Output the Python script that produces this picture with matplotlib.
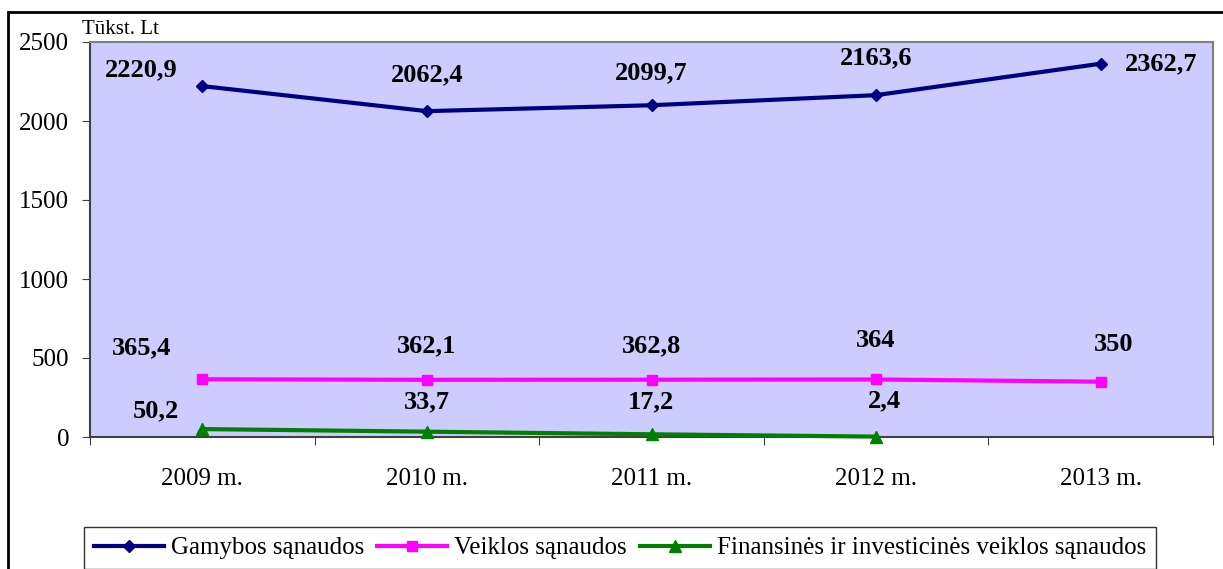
import matplotlib.pyplot as plt
from matplotlib.patches import Rectangle

plt.rcParams['font.family'] = ['Liberation Serif', 'DejaVu Serif']

# Duomenys
years = ['2009 m.', '2010 m.', '2011 m.', '2012 m.', '2013 m.']
gamybos = [2220.9, 2062.4, 2099.7, 2163.6, 2362.7]
veiklos = [365.4, 362.1, 362.8, 364, 350]
finansines = [50.2, 33.7, 17.2, 2.4]

gamybos_lbl = ['2220,9', '2062,4', '2099,7', '2163,6', '2362,7']
veiklos_lbl = ['365,4', '362,1', '362,8', '364', '350']
finansines_lbl = ['50,2', '33,7', '17,2', '2,4']

# label offsets in pixels (dx, dy)
g_off = [(-61, 16), (0, 36), (0, 32), (0, 37), (60, 0)]
v_off = [(-61, 31), (0, 34), (0, 34), (0, 39), (13, 37)]
f_off = [(-46, 18), (0, 30), (0, 32), (8, 36)]

fig = plt.figure(figsize=(12.23, 5.69), dpi=100)
fig.patches.append(Rectangle((8 / 1223, -0.05), 1.2, 1 - 12 / 569 + 0.05,
                             transform=fig.transFigure, fill=False,
                             edgecolor='black', linewidth=2))

ax = fig.add_axes([90 / 1223, 1 - 437 / 569, 1123 / 1223, 395 / 569])
ax.set_facecolor('#CCCCFF')

x = list(range(len(years)))
ax.plot(x, gamybos, color='#000080', lw=3, marker='D', ms=6, label='Gamybos sąnaudos')
ax.plot(x, veiklos, color='#FF00FF', lw=3, marker='s', ms=7, label='Veiklos sąnaudos')
ax.plot(x[:len(finansines)], finansines, color='#008000', lw=3, marker='^', ms=8,
        label='Finansinės ir investicinės veiklos sąnaudos', clip_on=False, zorder=5)

for vals, lbls, offs in [(gamybos, gamybos_lbl, g_off), (veiklos, veiklos_lbl, v_off),
                         (finansines, finansines_lbl, f_off)]:
    for i, (v, t, o) in enumerate(zip(vals, lbls, offs)):
        ax.annotate(t, (i, v), xytext=o, textcoords='offset pixels', ha='center',
                    va='center', fontsize=19, fontweight='bold')

ax.set_xlim(-0.5, 4.5)
ax.set_ylim(0, 2500)
ax.set_yticks([0, 500, 1000, 1500, 2000, 2500])
ax.set_xticks([i - 0.5 for i in range(6)])
ax.set_xticklabels([])
ax.set_xticks(x, minor=True)
ax.set_xticklabels(years, minor=True)
ax.tick_params(axis='x', which='minor', length=0, pad=22, labelsize=18)
ax.tick_params(axis='x', which='major', length=6, direction='out', color='#404040')
ax.tick_params(axis='y', length=6, direction='out', labelsize=18, pad=9, color='#404040')

for s in ['top', 'right']:
    ax.spines[s].set_color('#808080')
for s in ['left', 'bottom']:
    ax.spines[s].set_color('#404040')
for s in ax.spines.values():
    s.set_linewidth(1.5)

fig.text(82 / 1223, 1 - 29 / 569, 'Tūkst. Lt', fontsize=15, va='center', ha='left')

leg = fig.legend(loc='center', bbox_to_anchor=(620 / 1223, 1 - 548 / 569), ncol=3,
                 fontsize=18, frameon=True, fancybox=False, edgecolor='black',
                 handlelength=2.8, handletextpad=0.3, columnspacing=0.5,
                 borderpad=0.4)
leg.get_frame().set_linewidth(1)

fig.savefig('out.png', dpi=100)
